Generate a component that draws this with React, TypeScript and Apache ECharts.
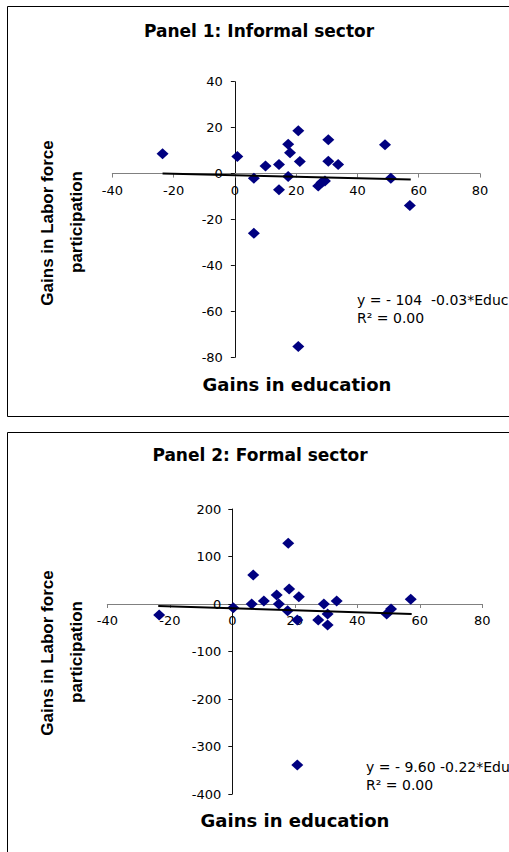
import React, { useEffect, useRef } from "react";
import * as echarts from "echarts";

// Panel 1: Informal sector  [gains in education, gains in labor force participation]
const informalPoints: [number, number][] = [
  [-23.6, 8.6], [0.8, 7.4], [6.2, -2.0], [10.0, 3.3], [14.4, 3.9], [14.4, -7.1],
  [17.4, 12.8], [18.0, 9.1], [17.4, -1.3], [20.7, 18.6], [21.2, 5.2], [6.2, -26.0],
  [20.7, -75.3], [27.2, -5.4], [28.3, -3.9], [29.4, -3.2], [30.5, 14.7], [30.5, 5.4],
  [33.7, 3.9], [49.0, 12.5], [50.9, -2.0], [57.1, -13.9],
];
const informalTrend: [number, number][] = [[-23.6, 0.0], [57.4, -2.6]];

// Panel 2: Formal sector
const formalPoints: [number, number][] = [
  [-23.4, -23.2], [0.3, -7.7], [6.2, 0], [6.7, 61], [10.1, 6.3], [14.2, 19],
  [14.9, 0], [17.9, 127.7], [18.2, 31.6], [17.7, -14], [21.3, 15.4], [20.8, -33.7],
  [20.8, -339], [27.5, -33.7], [29.3, 0], [30.5, -21], [30.5, -44], [33.4, 6.3],
  [49.4, -21], [50.8, -10.5], [57.1, 9.8],
];
const formalTrend: [number, number][] = [[-23.7, -4], [57.4, -21]];

const xTicks = { min: -40, max: 80, interval: 20 };
const yTicks1 = { min: -80, max: 40, interval: 20 };
const yTicks2 = { min: -400, max: 200, interval: 100 };

const titles = ["Panel 1: Informal sector", "Panel 2: Formal sector"];
const xName = "Gains in education";
const yNameLines = ["Gains in Labor force", "participation"];
const equations = [
  ["y = - 104  -0.03*Educ", "R² = 0.00"],
  ["y = - 9.60 -0.22*Educ", "R² = 0.00"],
];

const FONT = "Arial, 'Liberation Sans', sans-serif";
const WIDE = "'DejaVu Sans', sans-serif";

export default function App() {
  const ref = useRef<HTMLDivElement>(null);
  useEffect(() => {
    if (!ref.current) return;
    const chart = echarts.init(ref.current, null, { renderer: "svg" });

    const grids = [
      { left: 112.3, top: 81.7, width: 367.7, height: 275.6 },
      { left: 107.3, top: 509, width: 375, height: 285 },
    ];
    const yRanges = [yTicks1, yTicks2];

    // shift each axis (line, ticks and labels) to the other axis's zero
    const mkX = (i: number, margin: number) => {
      const r = yRanges[i];
      const off = -grids[i].height * (0 - r.min) / (r.max - r.min);
      return {
        type: "value",
        gridIndex: i,
        ...xTicks,
        offset: off,
        axisLine: { onZero: false, lineStyle: { color: "#808080", width: 1 } },
        axisTick: { show: true, length: 4, lineStyle: { color: "#808080" } },
        axisLabel: { color: "#000", fontFamily: WIDE, fontSize: 13, margin },
        splitLine: { show: false },
      };
    };
    const mkY = (i: number, margin: number) => {
      const r = yRanges[i];
      const off = -grids[i].width * (0 - xTicks.min) / (xTicks.max - xTicks.min);
      return {
        type: "value",
        gridIndex: i,
        ...r,
        offset: off,
        axisLine: { show: true, onZero: false, lineStyle: { color: "#111", width: 1 } },
        axisTick: { show: true, length: 4, lineStyle: { color: "#111" } },
        axisLabel: { color: "#000", fontFamily: WIDE, fontSize: 13, margin },
        splitLine: { show: false },
      };
    };

    const scatter = (i: number, data: [number, number][]) => ({
      type: "scatter",
      xAxisIndex: i,
      yAxisIndex: i,
      data,
      symbol: "diamond",
      symbolSize: [12, 11],
      itemStyle: { color: "#000080", opacity: 1 },
      z: 3,
    });
    const trend = (i: number, data: [number, number][]) => ({
      type: "line",
      xAxisIndex: i,
      yAxisIndex: i,
      data,
      showSymbol: false,
      symbol: "none",
      lineStyle: { color: "#000", width: 2 },
      z: 4,
    });

    const txt = (text: string, x: number, y: number, font: string, align = "center", rotation = 0) => ({
      type: "text",
      x,
      y,
      rotation,
      style: { text, font, fill: "#000", textAlign: align, textVerticalAlign: "middle" },
      z: 10,
    });

    chart.setOption({
      animation: false,
      backgroundColor: "#fff",
      grid: grids,
      xAxis: [mkX(0, 10), mkX(1, 10)],
      yAxis: [mkY(0, 12), mkY(1, 11)],
      series: [
        scatter(0, informalPoints),
        trend(0, informalTrend),
        scatter(1, formalPoints),
        trend(1, formalTrend),
      ],
      graphic: [
        { type: "rect", shape: { x: 7.5, y: 6.5, width: 540, height: 410 }, style: { fill: "none", stroke: "#000", lineWidth: 1 } },
        { type: "rect", shape: { x: 7.5, y: 432.5, width: 540, height: 460 }, style: { fill: "none", stroke: "#000", lineWidth: 1 } },
        txt(titles[0], 259, 31, `bold 17px ${WIDE}`),
        txt(titles[1], 260, 455, `bold 17px ${WIDE}`),
        txt(xName, 297, 384, `bold 18px ${WIDE}`),
        txt(xName, 295, 820, `bold 18px ${WIDE}`),
        txt(yNameLines[0], 47, 223, `bold 17px ${FONT}`, "center", Math.PI / 2),
        txt(yNameLines[1], 76, 222, `bold 17px ${FONT}`, "center", Math.PI / 2),
        txt(yNameLines[0], 47, 653, `bold 17px ${FONT}`, "center", Math.PI / 2),
        txt(yNameLines[1], 76, 652, `bold 17px ${FONT}`, "center", Math.PI / 2),
        txt(equations[0][0], 357, 300, `14px ${WIDE}`, "left"),
        txt(equations[0][1], 357, 318, `14px ${WIDE}`, "left"),
        txt(equations[1][0], 366, 767, `14px ${WIDE}`, "left"),
        txt(equations[1][1], 366, 785, `14px ${WIDE}`, "left"),
      ],
    });
    return () => chart.dispose();
  }, []);

  return (
    <div
      ref={ref}
      style={{ position: "absolute", left: 0, top: 0, width: 509, height: 852, overflow: "hidden", background: "#fff" }}
    />
  );
}
